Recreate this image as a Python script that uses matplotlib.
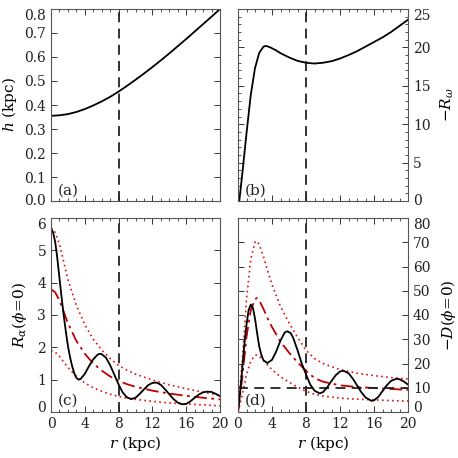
import matplotlib
matplotlib.use("Agg")
import matplotlib.pyplot as plt
from matplotlib.ticker import MultipleLocator
from matplotlib.transforms import ScaledTranslation

plt.rcParams['font.family'] = ['DejaVu Serif']
plt.rcParams['mathtext.fontset'] = 'dejavuserif'

# ---- data ----
r_a = [0, 1, 2, 3, 4, 5, 6, 7, 8, 9, 10, 11, 12, 13, 14, 15, 16, 17, 18, 19, 20]
h_a = [0.355, 0.357, 0.362, 0.371, 0.383, 0.398, 0.415, 0.434, 0.456, 0.480, 0.505,
       0.531, 0.558, 0.586, 0.615, 0.645, 0.675, 0.706, 0.737, 0.768, 0.80]

r_b = [0.15, 0.5, 1.0, 1.5, 2.0, 2.5, 3.0, 3.3, 3.8, 4.5, 5.0, 6.0, 7.0, 8.0, 9.0, 10.0,
       11.0, 12.0, 13.0, 14.0, 15.0, 16.0, 17.0, 18.0, 19.0, 20.0]
Rw_b = [0, 3.5, 8.8, 13.8, 17.3, 19.3, 20.1, 20.2, 20.0, 19.6, 19.25, 18.7, 18.25, 18.0,
        17.9, 18.0, 18.2, 18.55, 19.0, 19.5, 20.1, 20.7, 21.3, 22.0, 22.8, 23.6]

r_c = [0, 0.25, 0.5, 0.75, 1.0, 1.25, 1.5, 1.75, 2.0, 2.25, 2.5, 2.75, 3.0, 3.25, 3.5,
       4.0, 4.5, 5.0, 5.5, 5.8, 6.0, 6.5, 7.0, 7.5, 8.0, 8.5, 9.0, 9.5, 10.0, 10.5, 11.0,
       11.5, 12.0, 12.5, 13.0, 13.5, 14.0, 14.5, 15.0, 15.5, 16.0, 16.5, 17.0, 17.5, 18.0,
       18.5, 19.0, 19.5, 20.0]
Ra_c = [5.70, 5.55, 5.25, 4.75, 4.15, 3.55, 3.0, 2.5, 2.05, 1.70, 1.42, 1.20, 1.06, 1.00,
        1.02, 1.18, 1.42, 1.63, 1.77, 1.80, 1.79, 1.68, 1.45, 1.15, 0.85, 0.60, 0.45, 0.40,
        0.44, 0.56, 0.70, 0.83, 0.90, 0.91, 0.84, 0.70, 0.55, 0.40, 0.29, 0.24, 0.25, 0.33,
        0.44, 0.54, 0.61, 0.63, 0.62, 0.56, 0.49]

r_env = [0, 0.5, 1, 1.5, 2, 3, 4, 5, 6, 7, 8, 9, 10, 12, 14, 16, 18, 20]
Ra_mid = [3.80, 3.70, 3.45, 3.10, 2.75, 2.20, 1.80, 1.50, 1.28, 1.10, 0.96, 0.86, 0.78,
          0.66, 0.57, 0.50, 0.44, 0.39]
Ra_hi = [5.70, 5.55, 5.20, 4.65, 4.10, 3.30, 2.70, 2.25, 1.92, 1.65, 1.44, 1.29, 1.17,
         0.99, 0.84, 0.72, 0.61, 0.52]
Ra_lo = [1.90, 1.85, 1.72, 1.55, 1.38, 1.10, 0.90, 0.75, 0.64, 0.55, 0.48, 0.43, 0.39,
         0.33, 0.28, 0.25, 0.22, 0.19]

r_d = [0, 0.25, 0.5, 0.75, 1.0, 1.25, 1.5, 1.75, 2.0, 2.25, 2.5, 2.75, 3.0, 3.45, 4.0,
       4.5, 5.0, 5.5, 5.8, 6.2, 6.5, 7.0, 7.5, 8.0, 8.5, 9.0, 9.6, 10.0, 10.5, 11.0, 11.5,
       12.0, 12.4, 13.0, 13.5, 14.0, 14.5, 15.0, 15.7, 16.0, 16.5, 17.0, 17.5, 18.0, 18.6,
       19.0, 19.5, 20.0]
D_d = [0, 8, 18, 28, 36, 42, 44.3, 43, 38.5, 32.5, 27, 23.5, 21.3, 20.2, 21.5, 25, 29.5,
       32.8, 33.3, 32.5, 30.5, 25.5, 20, 15.5, 11.3, 8.8, 7.7, 8.2, 10.2, 12.8, 15.2, 16.7,
       17.0, 16.0, 13.8, 11.0, 8.2, 6.0, 4.6, 4.8, 6.2, 8.6, 11.0, 12.8, 13.7, 13.5, 12.6,
       11.3]

r_denv = [0, 0.5, 1.0, 1.5, 2.0, 2.2, 2.5, 3.0, 3.5, 4.0, 5, 6, 7, 8, 9, 10, 12, 14, 16, 18, 20]
D_mid = [0, 14, 31, 42, 46.5, 47, 46, 42.5, 38.5, 35, 29, 24.5, 20.5, 17.0, 14.0, 12.5,
         11.0, 10.3, 9.9, 9.5, 9.1]
D_hi = [0, 21, 46.5, 63, 70, 70.5, 69, 64, 58, 52.5, 43.5, 36.8, 30.8, 25.5, 22.0, 20.0,
        17.5, 16.0, 15.0, 14.2, 13.6]
D_lo = [0, 7, 15.5, 21, 23.3, 23.5, 23, 21.3, 19.3, 17.5, 14.5, 12.3, 10.3, 8.5, 7.3,
        6.6, 5.7, 5.3, 5.0, 4.7, 4.5]

D_crit = 10
r_sun = 8

# ---- figure ----
W = H = 458
fig = plt.figure(figsize=(4.58, 4.58), dpi=100)

def box(l, r, t, b):
    return [l / W, 1 - b / H, (r - l) / W, (b - t) / H]

ax_a = fig.add_axes(box(51, 220, 9, 201))
ax_b = fig.add_axes(box(238, 408, 9, 201))
ax_c = fig.add_axes(box(51, 220, 218, 412))
ax_d = fig.add_axes(box(238, 408, 218, 412))

red_dd = '#c00000'
red_dot = '#e01010'
dash_v = (0, (5.5, 3.5))

for ax in (ax_a, ax_b, ax_c, ax_d):
    ax.set_xlim(0, 20)
    ax.xaxis.set_major_locator(MultipleLocator(4))
    ax.xaxis.set_minor_locator(MultipleLocator(1))
    ax.tick_params(which='both', direction='in', top=True, bottom=True, left=True,
                   right=True, labelsize=10, colors='#333333', labelcolor='#222222')
    ax.tick_params(which='major', length=4.5, width=0.7)
    ax.tick_params(which='minor', length=2.5, width=0.6)
    for s in ax.spines.values():
        s.set_linewidth(0.8)
        s.set_color('#555555')
    ax.axvline(r_sun, color='#222222', lw=1.3, ls=dash_v)

# (a)
ax_a.plot(r_a, h_a, color='black', lw=1.3)
ax_a.set_ylim(0, 0.8)
ax_a.yaxis.set_major_locator(MultipleLocator(0.1))
ax_a.set_ylabel(r'$h$ (kpc)', fontsize=11, labelpad=4)
ax_a.tick_params(labelbottom=False)

# (b)
ax_b.plot(r_b, Rw_b, color='black', lw=1.3)
ax_b.set_ylim(0, 25)
ax_b.yaxis.set_major_locator(MultipleLocator(5))
ax_b.yaxis.set_minor_locator(MultipleLocator(1))
ax_b.tick_params(labelbottom=False, labelleft=False, labelright=True)
ax_b.yaxis.set_label_position('right')
ax_b.set_ylabel(r'$-R_\omega$', fontsize=11, labelpad=6)

# (c)
ax_c.plot(r_env, Ra_hi, color=red_dot, lw=1.2, ls=(0, (1, 2)))
ax_c.plot(r_env, Ra_lo, color=red_dot, lw=1.2, ls=(0, (1, 2)))
ax_c.plot(r_env, Ra_mid, color=red_dd, lw=1.3, ls=(0, (7, 2.5, 1.5, 2.5)))
ax_c.plot(r_c, Ra_c, color='black', lw=1.3)
ax_c.set_ylim(0, 6)
ax_c.yaxis.set_major_locator(MultipleLocator(1))
ax_c.set_ylabel(r'$R_\alpha(\phi\!=\!0)$', fontsize=11, labelpad=6)
ax_c.set_xlabel(r'$r$ (kpc)', fontsize=11, labelpad=2)

# (d)
ax_d.plot(r_denv, D_hi, color=red_dot, lw=1.2, ls=(0, (1, 2)))
ax_d.plot(r_denv, D_lo, color=red_dot, lw=1.2, ls=(0, (1, 2)))
ax_d.plot(r_denv, D_mid, color=red_dd, lw=1.3, ls=(0, (7, 2.5, 1.5, 2.5)))
ax_d.axhline(D_crit, color='#222222', lw=1.3, ls=dash_v)
ax_d.plot(r_d, D_d, color='black', lw=1.3)
ax_d.set_ylim(0, 80)
ax_d.yaxis.set_major_locator(MultipleLocator(10))
ax_d.tick_params(labelleft=False, labelright=True)
ax_d.yaxis.set_label_position('right')
ax_d.set_ylabel(r'$-D(\phi\!=\!0)$', fontsize=11, labelpad=6)
ax_d.set_xlabel(r'$r$ (kpc)', fontsize=11, labelpad=2)

for ax, lab in ((ax_a, '(a)'), (ax_b, '(b)'), (ax_c, '(c)'), (ax_d, '(d)')):
    ax.text(0.04, 0.02, lab, transform=ax.transAxes, fontsize=11, ha='left', va='bottom',
            color='#222222')

# nudge end y-labels inward (IDL style); shifts in pixels (bottom up, top down)
shifts = {ax_a: (2, 5), ax_b: (2, 5), ax_c: (5, 5), ax_d: (6, 6)}
fig.canvas.draw()
for ax, (up, down) in shifts.items():
    lo, hi = ax.get_ylim()
    span = hi - lo
    for tick in ax.yaxis.get_major_ticks():
        loc = tick.get_loc()
        if abs(loc - lo) < 1e-6 * span:
            off = ScaledTranslation(0, up / 100, fig.dpi_scale_trans)
        elif abs(loc - hi) < 1e-6 * span:
            off = ScaledTranslation(0, -down / 100, fig.dpi_scale_trans)
        else:
            continue
        tick.label1.set_transform(tick.label1.get_transform() + off)
        tick.label2.set_transform(tick.label2.get_transform() + off)

fig.savefig('out.png', dpi=100)
